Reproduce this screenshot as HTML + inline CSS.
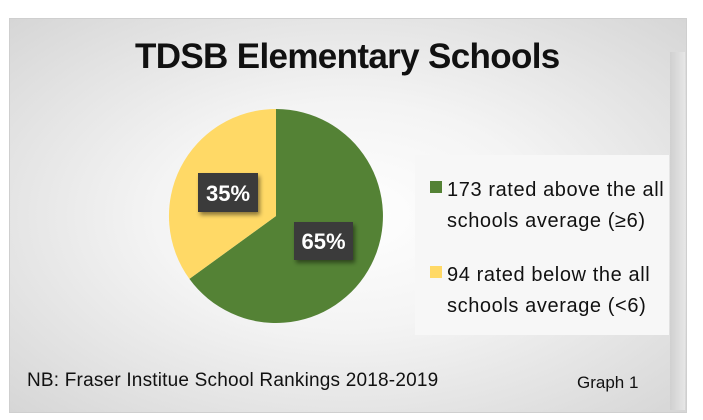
<!DOCTYPE html>
<html><head><style>
html,body{margin:0;padding:0;width:703px;height:420px;background:#fff;overflow:hidden;font-family:"Liberation Sans",sans-serif}
#p{position:absolute;left:9px;top:18px;width:676px;height:393px;background:radial-gradient(ellipse at 50% 50%,#ffffff 0%,#f4f4f4 40%,#d6d6d6 100%);border:1px solid #cfcfcf}
#strip{position:absolute;left:670px;top:52px;width:15px;height:358px;background:linear-gradient(90deg,#d0d0d0,#e6e6e6)}
.t{position:absolute;white-space:nowrap;color:#111}
</style></head><body>
<div id="p"></div>
<div id="strip"></div>
<div class="t" style="left:135px;top:37px;font-size:35px;font-weight:bold;letter-spacing:-0.65px">TDSB Elementary Schools</div>
<div style="position:absolute;left:415px;top:155px;width:254px;height:180px;background:#f7f7f7"></div>
<svg style="position:absolute;left:0;top:0" width="703" height="420">
<defs><filter id="s" x="-30%" y="-30%" width="160%" height="160%"><feDropShadow dx="2" dy="3" stdDeviation="2" flood-opacity="0.45"/></filter></defs>
<path d="M276,216 L276,109 A107,107 0 1,1 189.4,278.9 Z" fill="#548235"/>
<path d="M276,216 L189.4,278.9 A107,107 0 0,1 276,109 Z" fill="#ffd966"/>
<rect x="198" y="173" width="60" height="39" fill="#3a3a3a" filter="url(#s)"/>
<rect x="294" y="222" width="59" height="38" fill="#3a3a3a" filter="url(#s)"/>
<text x="228" y="201" fill="#fff" font-size="22" font-weight="bold" text-anchor="middle" font-family="Liberation Sans">35%</text>
<text x="323.5" y="249" fill="#fff" font-size="22" font-weight="bold" text-anchor="middle" font-family="Liberation Sans">65%</text>
<rect x="430" y="181" width="12" height="12" fill="#548235"/>
<rect x="430" y="266" width="12" height="12" fill="#ffd966"/>
</svg>
<div class="t" style="left:447px;top:175px;font-size:20px;line-height:31px;letter-spacing:0.6px">173 rated above the all<br>schools average (≥6)</div>
<div class="t" style="left:447px;top:260px;font-size:20px;line-height:31px;letter-spacing:0.6px">94 rated below the all<br>schools average (&lt;6)</div>
<div class="t" style="left:27px;top:370px;font-size:19px;letter-spacing:0.2px">NB: Fraser Institue School Rankings 2018-2019</div>
<div class="t" style="left:577px;top:373px;font-size:17px">Graph 1</div>
</body></html>
